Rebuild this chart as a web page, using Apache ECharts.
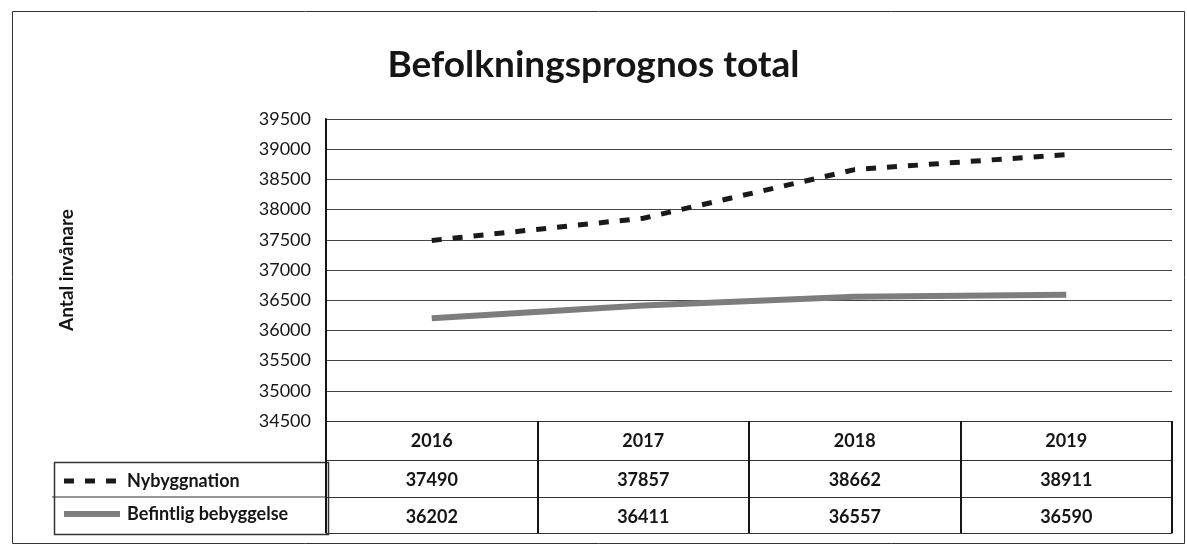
<!DOCTYPE html>
<html>
<head>
<meta charset="utf-8">
<script src="https://cdn.jsdelivr.net/npm/echarts@6/dist/echarts.min.js"></script>
<style>
  html, body { margin: 0; padding: 0; background: #fff; }
  #chart { width: 1187px; height: 545px; }
</style>
</head>
<body>
<div id="chart"></div>
<script>
// values
const years = ["2016", "2017", "2018", "2019"];
const nybyggnation = [37490, 37857, 38662, 38911];
const befintlig = [36202, 36411, 36557, 36590];
const seriesNames = ["Nybyggnation", "Befintlig bebyggelse"];

const font = "Lato";
const ink = "#151515";

const chart = echarts.init(document.getElementById("chart"));

// one x axis per table row, stacked under the plot
const tableAxis = (offset, rowValues, tickLen) => ({
  type: "category",
  data: years,
  position: "bottom",
  offset: offset,
  axisLine: { show: true, lineStyle: { color: "#333", width: 1 } },
  axisTick: {
    show: tickLen > 0,
    interval: 0,
    length: tickLen,
    lineStyle: { color: ink, width: 2 },
  },
  axisLabel: {
    show: !!rowValues,
    interval: 0,
    margin: 11,
    fontFamily: font,
    fontSize: 18,
    fontWeight: "bold",
    color: ink,
    formatter: (v, i) => (rowValues ? String(rowValues[i]) : ""),
  },
  splitLine: { show: false },
});

chart.setOption({
  backgroundColor: "#fff",
  animation: false,
  title: {
    text: "Befolkningsprognos total",
    left: "center",
    top: 42,
    textStyle: {
      fontFamily: font,
      fontSize: 37,
      fontWeight: "bold",
      color: ink,
    },
  },
  legend: {
    orient: "vertical",
    left: 56,
    top: 467,
    itemWidth: 56,
    itemHeight: 14,
    itemGap: 15,
    data: [
      { name: seriesNames[0], lineStyle: { width: 5 } },
      { name: seriesNames[1], lineStyle: { width: 6 } },
    ],
    itemStyle: { opacity: 0 },
    textStyle: {
      fontFamily: font,
      fontSize: 18,
      fontWeight: "bold",
      color: ink,
      padding: [0, 0, 0, 2],
    },
  },
  grid: {
    left: 326,
    right: 15,
    top: 119,
    bottom: 124,
  },
  xAxis: [
    {
      type: "category",
      data: years,
      position: "bottom",
      axisLine: { show: true, lineStyle: { color: "#333", width: 1 } },
      axisTick: {
        show: true,
        interval: 0,
        length: 39,
        lineStyle: { color: ink, width: 2 },
      },
      axisLabel: {
        interval: 0,
        margin: 11,
        fontFamily: font,
        fontSize: 18,
        fontWeight: "bold",
        color: ink,
      },
    },
    tableAxis(39, nybyggnation, 37),
    tableAxis(76, befintlig, 36),
    tableAxis(112, null, 0),
  ],
  yAxis: {
    type: "value",
    min: 34500,
    max: 39500,
    interval: 500,
    name: "Antal invånare",
    nameLocation: "middle",
    nameRotate: 90,
    nameGap: 250,
    nameTextStyle: {
      fontFamily: font,
      fontSize: 19,
      fontWeight: "bold",
      color: ink,
    },
    axisLine: { show: true, lineStyle: { color: ink, width: 2 } },
    axisTick: { show: false },
    axisLabel: {
      margin: 15,
      fontFamily: font,
      fontSize: 18,
      color: ink,
      formatter: (v) => String(v),
    },
    splitLine: { lineStyle: { color: "#444", width: 1 } },
  },
  graphic: [
    {
      type: "rect",
      left: 10,
      top: 9,
      shape: { width: 1172, height: 532 },
      style: { fill: null, stroke: "#333", lineWidth: 1 },
      silent: true,
    },
    {
      type: "rect",
      left: 52,
      top: 460,
      shape: { width: 274, height: 72 },
      style: { fill: null, stroke: "#333", lineWidth: 1.5 },
      silent: true,
    },
    {
      type: "line",
      shape: { x1: 52, y1: 497, x2: 326, y2: 497 },
      style: { stroke: "#333", lineWidth: 1 },
      silent: true,
    },
  ],
  series: [
    {
      name: seriesNames[0],
      type: "line",
      data: nybyggnation,
      symbol: "none",
      lineStyle: { color: "#1a1a1a", width: 5, type: [10, 11] },
      itemStyle: { color: "#1a1a1a" },
    },
    {
      name: seriesNames[1],
      type: "line",
      data: befintlig,
      symbol: "none",
      lineStyle: { color: "#7d7d7d", width: 6 },
      itemStyle: { color: "#7d7d7d" },
    },
  ],
});
</script>
</body>
</html>
